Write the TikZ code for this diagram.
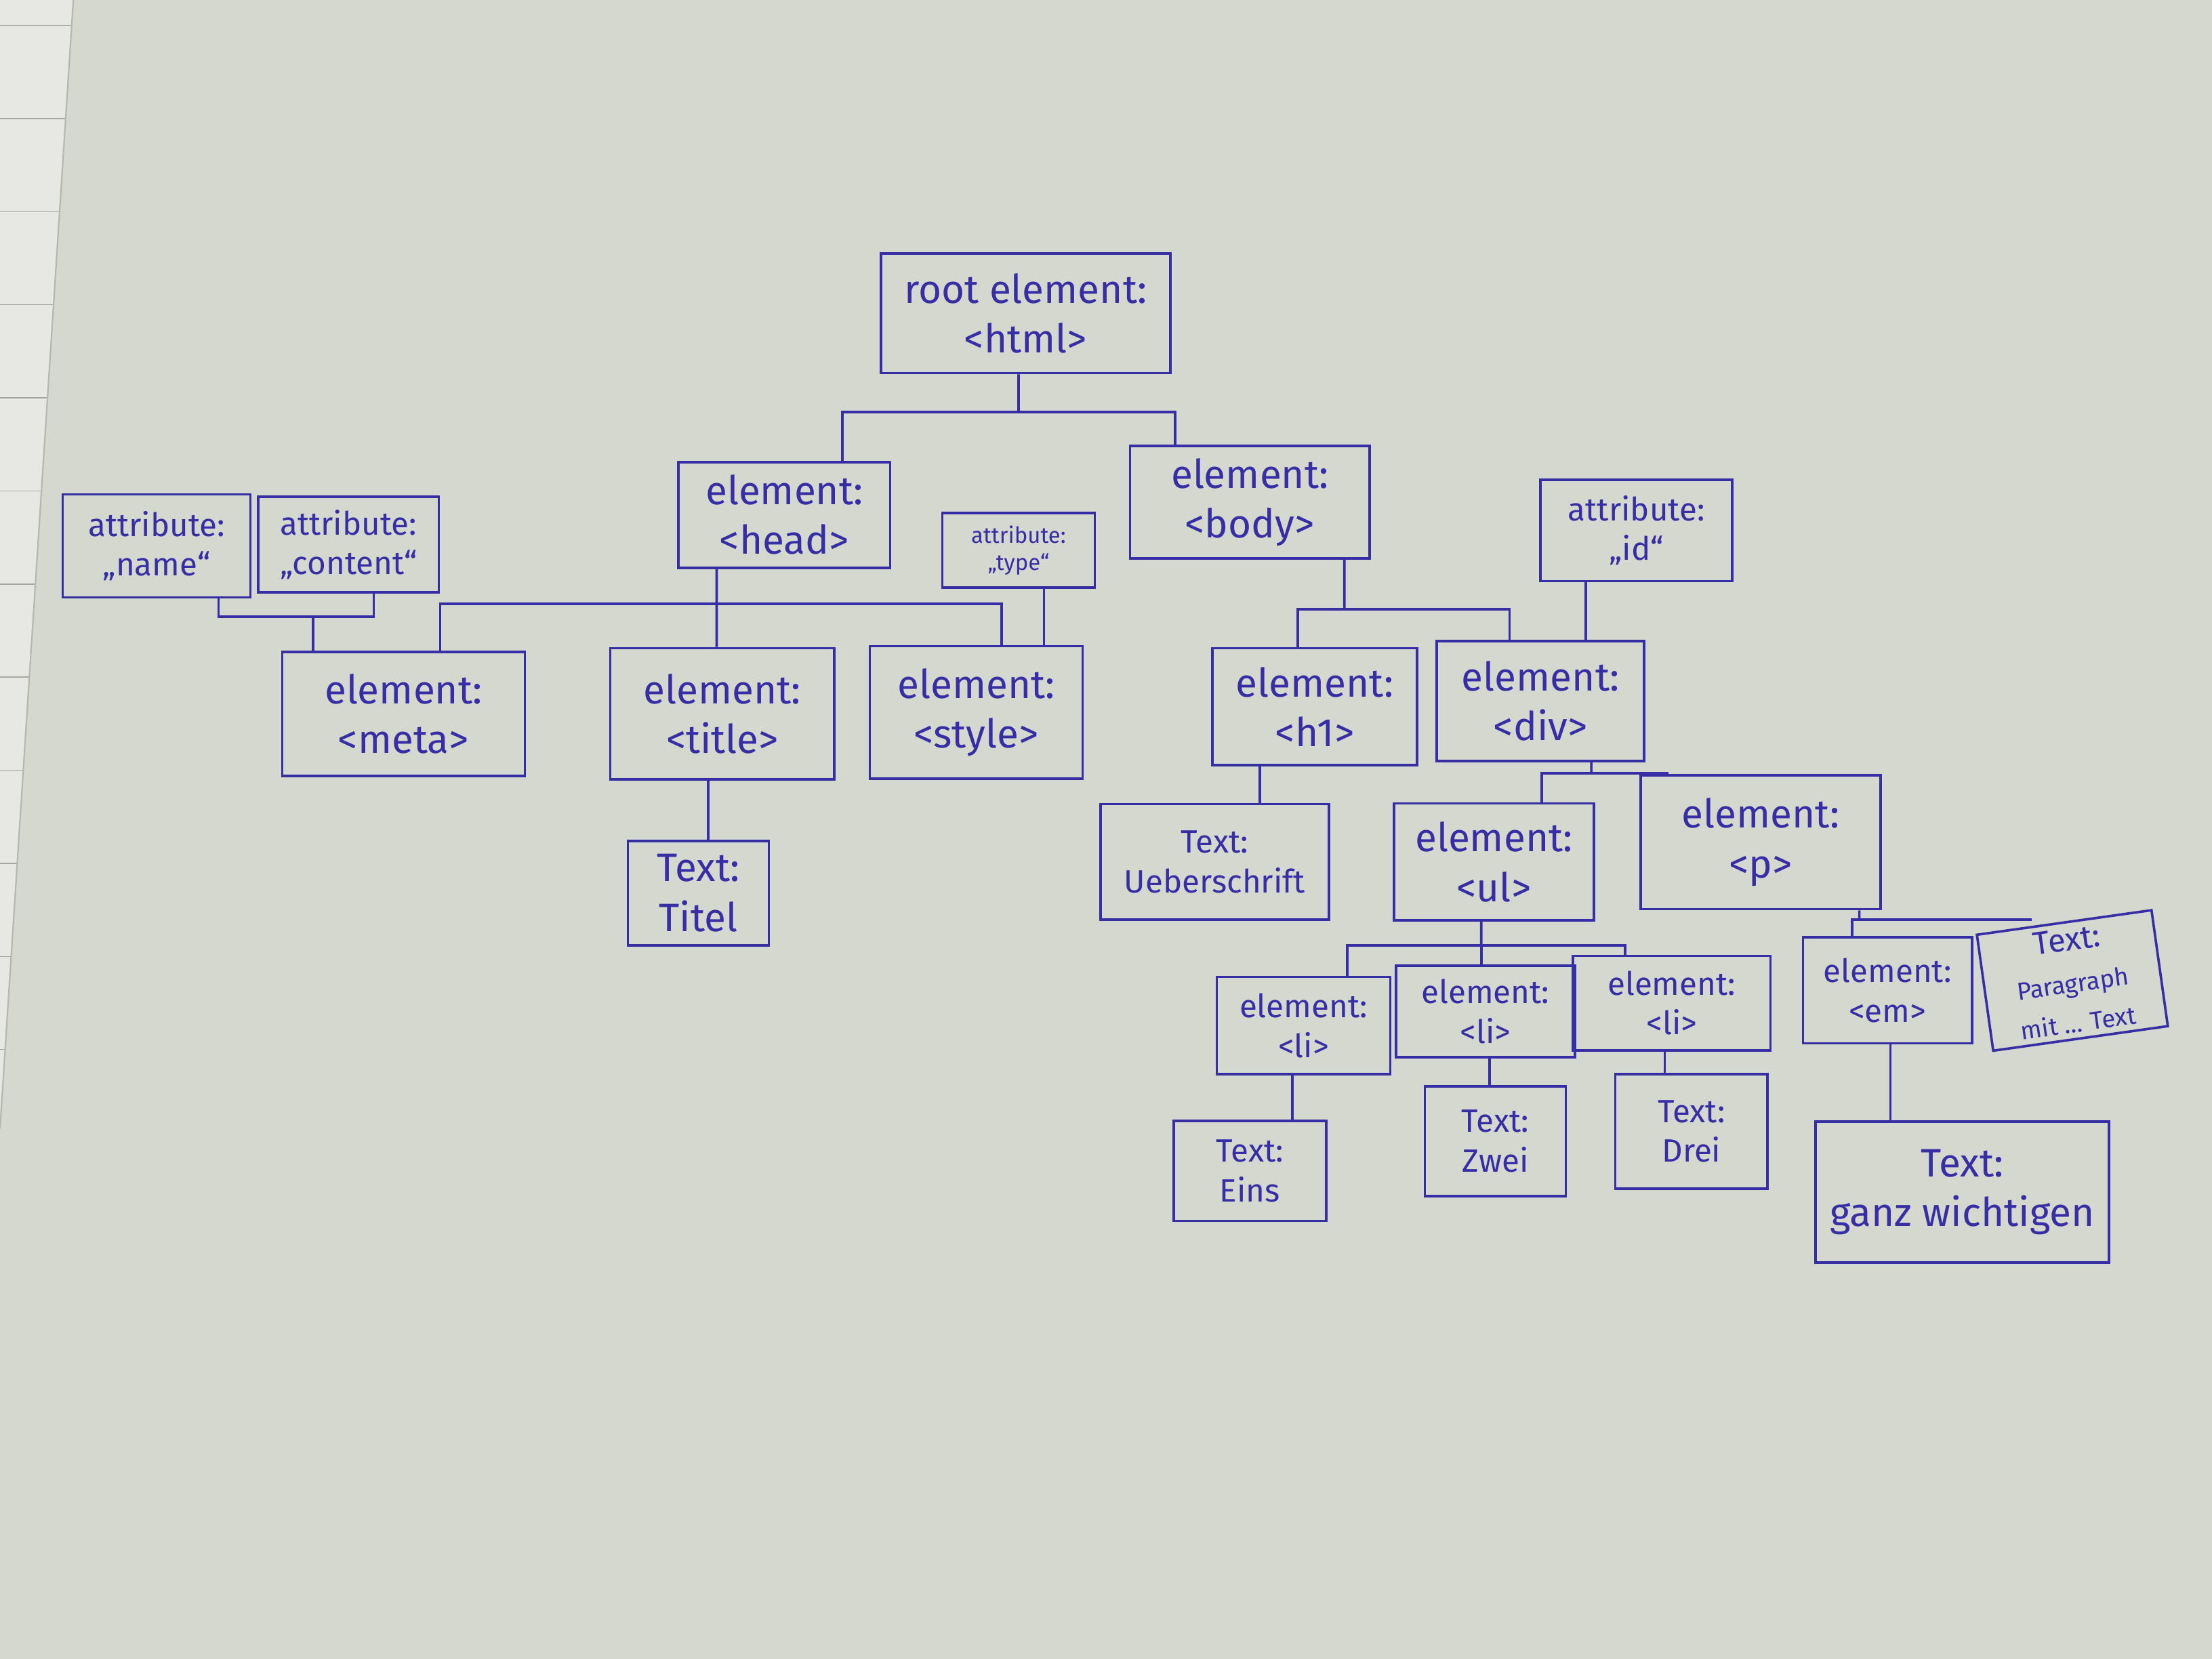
\documentclass[tikz,border=0pt]{standalone}
\usepackage{fontspec}
\setmainfont{Fira Sans}
\usepackage{tikz}
\definecolor{ink}{RGB}{55,45,165}
\definecolor{paper}{RGB}{213,216,207}
\definecolor{sheet}{RGB}{231,231,227}

\begin{document}
\begin{tikzpicture}[x=0.02cm, y=-0.02cm]
    \tikzset{
        elembox/.style={
            draw=ink, line width=1pt, text=ink,
            align=center, inner sep=2pt,
            font=\fontsize{16}{20}\selectfont
        },
        smallbox/.style={
            elembox, font=\fontsize{13}{16}\selectfont
        },
        tinybox/.style={
            elembox, font=\fontsize{9}{11}\selectfont
        },
        link/.style={draw=ink, line width=1pt},
    }

    % ==== Paper ====
    \useasboundingbox (0,0) rectangle (1568,1176);
    \fill[paper] (0,0) rectangle (1568,1176);
    \fill[sheet] (0,0) -- (52,0) -- (0,800) -- cycle;
    \foreach \y in {18,84,...,760} {
        \draw[gray!70, line width=0.4pt] (0,\y) -- ({52-0.065*\y},\y);
    }
    \draw[paper!85!black, line width=0.6pt] (52,0) -- (0,800);

    % ==== Root and its children ====
    \node[elembox, minimum width=4.1cm, minimum height=1.7cm] (root) at (727,222) {root element:\\<html>};
    \node[elembox, minimum width=3.0cm, minimum height=1.5cm] (head) at (556,365) {element:\\<head>};
    \node[elembox, minimum width=3.4cm, minimum height=1.6cm] (body) at (886,356) {element:\\<body>};

    % ==== Head part ====
    \node[smallbox, minimum width=2.66cm, minimum height=1.46cm] (attname) at (111,387) {attribute:\\„name“};
    \node[smallbox, minimum width=2.56cm, minimum height=1.36cm] (attcontent) at (247,386) {attribute:\\„content“};
    \node[tinybox, minimum width=2.16cm, minimum height=1.06cm] (atttype) at (722,390) {attribute:\\„type“};
    \node[elembox, minimum width=3.44cm, minimum height=1.76cm] (meta) at (286,506) {element:\\<meta>};
    \node[elembox, minimum width=3.18cm, minimum height=1.86cm] (title) at (512,506) {element:\\<title>};
    \node[elembox, minimum width=3.02cm, minimum height=1.88cm] (style) at (692,505) {element:\\<style>};
    \node[elembox, minimum width=2.0cm, minimum height=1.48cm] (txttitle) at (495,633) {Text:\\Titel};

    % ==== Body part ====
    \node[smallbox, minimum width=2.72cm, minimum height=1.44cm] (attid) at (1160,376) {attribute:\\„id“};
    \node[elembox, minimum width=2.9cm, minimum height=1.66cm] (h1) at (932,501) {element:\\<h1>};
    \node[elembox, minimum width=2.94cm, minimum height=1.7cm] (div) at (1092,497) {element:\\<div>};
    \node[smallbox, minimum width=3.24cm, minimum height=1.64cm] (txtueber) at (861,611) {Text:\\Ueberschrift};
    \node[elembox, minimum width=2.84cm, minimum height=1.66cm] (ul) at (1059,611) {element:\\<ul>};
    \node[elembox, minimum width=3.4cm, minimum height=1.9cm] (p) at (1248,597) {element:\\<p>};

    % ==== List items ====
    \node[smallbox, minimum width=2.46cm, minimum height=1.38cm] (li1) at (924,727) {element:\\<li>};
    \node[smallbox, minimum width=2.54cm, minimum height=1.3cm] (li2) at (1053,717) {element:\\<li>};
    \node[smallbox, minimum width=2.8cm, minimum height=1.34cm] (li3) at (1185,711) {element:\\<li>};
    \node[smallbox, minimum width=2.16cm, minimum height=1.42cm] (txteins) at (886,830) {Text:\\Eins};
    \node[smallbox, minimum width=2.0cm, minimum height=1.56cm] (txtzwei) at (1060,809) {Text:\\Zwei};
    \node[smallbox, minimum width=2.16cm, minimum height=1.62cm] (txtdrei) at (1199,802) {Text:\\Drei};

    % ==== Paragraph content ====
    \node[smallbox, minimum width=2.4cm, minimum height=1.5cm] (em) at (1338,702) {element:\\<em>};
    \node[smallbox, rotate=8, minimum width=2.5cm, minimum height=1.66cm] (txtpara) at (1469,695)
        {Text:\\[1pt]{\fontsize{10}{11}\selectfont Paragraph}\\{\fontsize{10}{11}\selectfont mit ... Text}};
    \node[elembox, minimum width=4.16cm, minimum height=2.0cm] (txtganz) at (1391,845) {Text:\\ganz wichtigen};

    % ==== Connectors ====
    \coordinate (jroot) at (722,292);
    \coordinate (jhead) at (508,428);
    \coordinate (jmeta) at (222,437);
    \coordinate (jbody) at (953,432);
    \coordinate (jdiv) at (1128,548);
    \coordinate (jul) at (1050,670);
    \coordinate (jp) at (1318,652);

    \draw[link] ([xshift=-0.1cm]root.south) -- (jroot);
    \draw[link] ([xshift=0.82cm]head.north) |- (jroot) -| ([xshift=-1.06cm]body.north);

    \draw[link] ([xshift=-0.96cm]head.south) -- ([xshift=-0.08cm]title.north);
    \draw[link] ([xshift=0.52cm]meta.north) |- (jhead) -| ([xshift=0.36cm]style.north);
    \draw[link] ([xshift=0.88cm]attname.south) |- (jmeta) -| ([xshift=0.36cm]attcontent.south);
    \draw[link] (jmeta) -- (jmeta |- meta.north);
    \draw[link] ([xshift=0.36cm]atttype.south) -- ([xshift=0.36cm]atttype.south |- style.north);
    \draw[link] ([xshift=-0.2cm]title.south) -- ([xshift=-0.2cm]title.south |- txttitle.north);

    \draw[link] ([xshift=1.34cm]body.south) -- (jbody);
    \draw[link] ([xshift=-0.24cm]h1.north) |- (jbody) -| ([xshift=-0.44cm]div.north);
    \draw[link] ([xshift=-0.72cm]attid.south) -- ([xshift=-0.72cm]attid.south |- div.north);
    \draw[link] ([xshift=-0.78cm]h1.south) -- ([xshift=-0.78cm]h1.south |- txtueber.north);

    \draw[link] ([xshift=0.72cm]div.south) -- (jdiv);
    \draw[link] ([xshift=0.68cm]ul.north) |- (jdiv) -| ([xshift=-1.32cm]p.north);
    \draw[link] ([xshift=-0.18cm]ul.south) -- (jul);
    \draw[link] ([xshift=0.62cm]li1.north) |- (jul) -| ([xshift=-0.66cm]li3.north);
    \draw[link] (jul) -- (jul |- li2.north);
    \draw[link] ([xshift=1.4cm]p.south) -- (jp);
    \draw[link] ([xshift=-0.5cm]em.north) |- (jp) -| ([xshift=-0.48cm]txtpara.north);

    \draw[link] ([xshift=-0.16cm]li1.south) -- ([xshift=-0.16cm]li1.south |- txteins.north);
    \draw[link] ([xshift=0.06cm]li2.south) -- ([xshift=0.06cm]li2.south |- txtzwei.north);
    \draw[link] ([xshift=-0.1cm]li3.south) -- ([xshift=-0.1cm]li3.south |- txtdrei.north);
    \draw[link] ([xshift=0.04cm]em.south) -- ([xshift=0.04cm]em.south |- txtganz.north);
\end{tikzpicture}
\end{document}
